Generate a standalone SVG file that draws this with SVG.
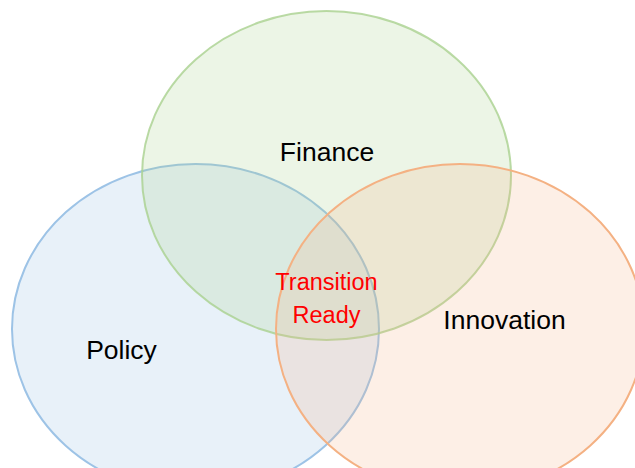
<svg xmlns="http://www.w3.org/2000/svg" width="635" height="468" viewBox="0 0 635 468">
  <style>
    .lbl { font-family: "Liberation Sans", Arial, sans-serif; font-size: 26.5px; fill: #000; text-anchor: middle; }
    .mid { font-family: "Liberation Sans", Arial, sans-serif; font-size: 23.5px; fill: #ff0000; text-anchor: middle; }
    .set { stroke-width: 2; }
  </style>
  <rect width="635" height="468" fill="#ffffff"/>
  <g id="policy">
    <ellipse class="set" cx="195.5" cy="329" rx="183.5" ry="165" fill="#9dc3e6" fill-opacity="0.24" stroke="#9dc3e6"/>
  </g>
  <g id="finance">
    <ellipse class="set" cx="326.5" cy="175.5" rx="184.5" ry="164.5" fill="#a9d18e" fill-opacity="0.22" stroke="#a9d18e" stroke-opacity="0.8" stroke-width="2.5"/>
  </g>
  <g id="innovation">
    <ellipse class="set" cx="460" cy="329" rx="184" ry="165" fill="#f4b183" fill-opacity="0.2" stroke="#f4b183"/>
  </g>
  <g id="labels">
    <text class="lbl" x="327" y="161">Finance</text>
    <text class="lbl" x="121.5" y="359">Policy</text>
    <text class="lbl" x="504.5" y="329">Innovation</text>
    <text class="mid" x="326.5" y="290">Transition</text>
    <text class="mid" x="326.5" y="323">Ready</text>
  </g>
  <g id="connectors"/>
</svg>
